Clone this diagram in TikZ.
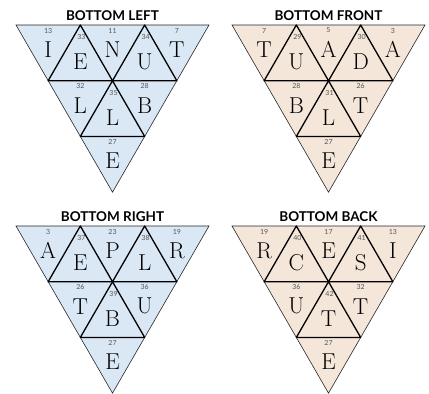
\documentclass[tikz,border=0pt]{standalone}
\usepackage{fontspec}
\newfontfamily\titlefont{Lato}
\usetikzlibrary{calc}

\definecolor{paleblue}{RGB}{218,232,246}
\definecolor{palesand}{RGB}{245,230,218}
\definecolor{numgray}{RGB}{85,85,85}

\newcommand{\cellw}{64.333}
\newcommand{\cellh}{55.715}

\begin{document}
\begin{tikzpicture}[
    x=1pt, y=-1pt,
    outline/.style={draw=black!85, line width=0.6pt},
    inner/.style={draw=black, line width=1.3pt, line join=round},
    letter/.style={font=\fontsize{23}{23}\selectfont, inner sep=0pt},
    num/.style={font=\titlefont\fontsize{7}{7}\selectfont, text=numgray, inner sep=0pt},
    title/.style={font=\titlefont\bfseries\fontsize{13.5}{14}\selectfont, inner sep=0pt, anchor=base},
    down/.style={shift={(0,24.5)}},
    up/.style={shift={(0,-18.6)}},
]
\useasboundingbox (0,0) rectangle (429,394);

% ===== grid points of the four panels =====
\foreach \p/\px/\py in {BL/16/25, BF/232/25, BR/16/226, BB/232/226}{
  \foreach \r in {0,1,2,3}{
    \pgfmathtruncatemacro{\kmax}{3-\r}
    \foreach \k in {0,...,\kmax}
      \coordinate (\p-\r\k) at ({\px+\r*\cellw/2+\k*\cellw},{\py+\r*\cellh});
  }
}

% ===== BOTTOM LEFT =====
\fill[paleblue] (BL-00) -- (BL-03) -- (BL-30) -- cycle;
\draw[outline] (BL-00) -- (BL-03) -- (BL-30) -- cycle;
\draw[inner] (BL-10) -- (BL-11) -- (BL-01) -- cycle;
\draw[inner] (BL-11) -- (BL-12) -- (BL-02) -- cycle;
\draw[inner] (BL-20) -- (BL-21) -- (BL-11) -- cycle;
\node[title] (BL-title) at ($(BL-00)!0.5!(BL-03)+(0,-5)$) {BOTTOM LEFT};

\node[letter, down] (BL-t1) at ($(BL-00)!0.5!(BL-01)$) {I};
\node[letter, down] (BL-t2) at ($(BL-01)!0.5!(BL-02)$) {N};
\node[letter, down] (BL-t3) at ($(BL-02)!0.5!(BL-03)$) {T};
\node[letter, up] (BL-u1) at ($(BL-10)!0.5!(BL-11)$) {E};
\node[letter, up] (BL-u2) at ($(BL-11)!0.5!(BL-12)$) {U};
\node[letter, down] (BL-m1) at ($(BL-10)!0.5!(BL-11)$) {L};
\node[letter, down] (BL-m2) at ($(BL-11)!0.5!(BL-12)$) {B};
\node[letter, up] (BL-c) at ($(BL-20)!0.5!(BL-21)$) {L};
\node[letter, down] (BL-b) at ($(BL-20)!0.5!(BL-21)$) {E};

\node[num] (BL-t1n) at ($(BL-00)!0.5!(BL-01)+(0,5.5)$) {13};
\node[num] (BL-t2n) at ($(BL-01)!0.5!(BL-02)+(0,5.5)$) {11};
\node[num] (BL-t3n) at ($(BL-02)!0.5!(BL-03)+(0,5.5)$) {7};
\node[num] (BL-u1n) at ($(BL-01)+(1,12)$) {33};
\node[num] (BL-u2n) at ($(BL-02)+(1,12)$) {34};
\node[num] (BL-m1n) at ($(BL-10)!0.5!(BL-11)+(0,5.5)$) {32};
\node[num] (BL-m2n) at ($(BL-11)!0.5!(BL-12)+(0,5.5)$) {28};
\node[num] (BL-cn) at ($(BL-11)+(1,12)$) {35};
\node[num] (BL-bn) at ($(BL-20)!0.5!(BL-21)+(0,5.5)$) {27};

% ===== BOTTOM FRONT =====
\fill[palesand] (BF-00) -- (BF-03) -- (BF-30) -- cycle;
\draw[outline] (BF-00) -- (BF-03) -- (BF-30) -- cycle;
\draw[inner] (BF-10) -- (BF-11) -- (BF-01) -- cycle;
\draw[inner] (BF-11) -- (BF-12) -- (BF-02) -- cycle;
\draw[inner] (BF-20) -- (BF-21) -- (BF-11) -- cycle;
\node[title] (BF-title) at ($(BF-00)!0.5!(BF-03)+(0,-5)$) {BOTTOM FRONT};

\node[letter, down] (BF-t1) at ($(BF-00)!0.5!(BF-01)$) {T};
\node[letter, down] (BF-t2) at ($(BF-01)!0.5!(BF-02)$) {A};
\node[letter, down] (BF-t3) at ($(BF-02)!0.5!(BF-03)$) {A};
\node[letter, up] (BF-u1) at ($(BF-10)!0.5!(BF-11)$) {U};
\node[letter, up] (BF-u2) at ($(BF-11)!0.5!(BF-12)$) {D};
\node[letter, down] (BF-m1) at ($(BF-10)!0.5!(BF-11)$) {B};
\node[letter, down] (BF-m2) at ($(BF-11)!0.5!(BF-12)$) {T};
\node[letter, up] (BF-c) at ($(BF-20)!0.5!(BF-21)$) {L};
\node[letter, down] (BF-b) at ($(BF-20)!0.5!(BF-21)$) {E};

\node[num] (BF-t1n) at ($(BF-00)!0.5!(BF-01)+(0,5.5)$) {7};
\node[num] (BF-t2n) at ($(BF-01)!0.5!(BF-02)+(0,5.5)$) {5};
\node[num] (BF-t3n) at ($(BF-02)!0.5!(BF-03)+(0,5.5)$) {3};
\node[num] (BF-u1n) at ($(BF-01)+(1,12)$) {29};
\node[num] (BF-u2n) at ($(BF-02)+(1,12)$) {30};
\node[num] (BF-m1n) at ($(BF-10)!0.5!(BF-11)+(0,5.5)$) {28};
\node[num] (BF-m2n) at ($(BF-11)!0.5!(BF-12)+(0,5.5)$) {26};
\node[num] (BF-cn) at ($(BF-11)+(1,12)$) {31};
\node[num] (BF-bn) at ($(BF-20)!0.5!(BF-21)+(0,5.5)$) {27};

% ===== BOTTOM RIGHT =====
\fill[paleblue] (BR-00) -- (BR-03) -- (BR-30) -- cycle;
\draw[outline] (BR-00) -- (BR-03) -- (BR-30) -- cycle;
\draw[inner] (BR-10) -- (BR-11) -- (BR-01) -- cycle;
\draw[inner] (BR-11) -- (BR-12) -- (BR-02) -- cycle;
\draw[inner] (BR-20) -- (BR-21) -- (BR-11) -- cycle;
\node[title] (BR-title) at ($(BR-00)!0.5!(BR-03)+(0,-5)$) {BOTTOM RIGHT};

\node[letter, down] (BR-t1) at ($(BR-00)!0.5!(BR-01)$) {A};
\node[letter, down] (BR-t2) at ($(BR-01)!0.5!(BR-02)$) {P};
\node[letter, down] (BR-t3) at ($(BR-02)!0.5!(BR-03)$) {R};
\node[letter, up] (BR-u1) at ($(BR-10)!0.5!(BR-11)$) {E};
\node[letter, up] (BR-u2) at ($(BR-11)!0.5!(BR-12)$) {L};
\node[letter, down] (BR-m1) at ($(BR-10)!0.5!(BR-11)$) {T};
\node[letter, down] (BR-m2) at ($(BR-11)!0.5!(BR-12)$) {U};
\node[letter, up] (BR-c) at ($(BR-20)!0.5!(BR-21)$) {B};
\node[letter, down] (BR-b) at ($(BR-20)!0.5!(BR-21)$) {E};

\node[num] (BR-t1n) at ($(BR-00)!0.5!(BR-01)+(0,5.5)$) {3};
\node[num] (BR-t2n) at ($(BR-01)!0.5!(BR-02)+(0,5.5)$) {23};
\node[num] (BR-t3n) at ($(BR-02)!0.5!(BR-03)+(0,5.5)$) {19};
\node[num] (BR-u1n) at ($(BR-01)+(1,12)$) {37};
\node[num] (BR-u2n) at ($(BR-02)+(1,12)$) {38};
\node[num] (BR-m1n) at ($(BR-10)!0.5!(BR-11)+(0,5.5)$) {26};
\node[num] (BR-m2n) at ($(BR-11)!0.5!(BR-12)+(0,5.5)$) {36};
\node[num] (BR-cn) at ($(BR-11)+(1,12)$) {39};
\node[num] (BR-bn) at ($(BR-20)!0.5!(BR-21)+(0,5.5)$) {27};

% ===== BOTTOM BACK =====
\fill[palesand] (BB-00) -- (BB-03) -- (BB-30) -- cycle;
\draw[outline] (BB-00) -- (BB-03) -- (BB-30) -- cycle;
\draw[inner] (BB-10) -- (BB-11) -- (BB-01) -- cycle;
\draw[inner] (BB-11) -- (BB-12) -- (BB-02) -- cycle;
\draw[inner] (BB-20) -- (BB-21) -- (BB-11) -- cycle;
\node[title] (BB-title) at ($(BB-00)!0.5!(BB-03)+(0,-5)$) {BOTTOM BACK};

\node[letter, down] (BB-t1) at ($(BB-00)!0.5!(BB-01)$) {R};
\node[letter, down] (BB-t2) at ($(BB-01)!0.5!(BB-02)$) {E};
\node[letter, down] (BB-t3) at ($(BB-02)!0.5!(BB-03)$) {I};
\node[letter, up] (BB-u1) at ($(BB-10)!0.5!(BB-11)$) {C};
\node[letter, up] (BB-u2) at ($(BB-11)!0.5!(BB-12)$) {S};
\node[letter, down] (BB-m1) at ($(BB-10)!0.5!(BB-11)$) {U};
\node[letter, down] (BB-m2) at ($(BB-11)!0.5!(BB-12)$) {T};
\node[letter, up] (BB-c) at ($(BB-20)!0.5!(BB-21)$) {T};
\node[letter, down] (BB-b) at ($(BB-20)!0.5!(BB-21)$) {E};

\node[num] (BB-t1n) at ($(BB-00)!0.5!(BB-01)+(0,5.5)$) {19};
\node[num] (BB-t2n) at ($(BB-01)!0.5!(BB-02)+(0,5.5)$) {17};
\node[num] (BB-t3n) at ($(BB-02)!0.5!(BB-03)+(0,5.5)$) {13};
\node[num] (BB-u1n) at ($(BB-01)+(1,12)$) {40};
\node[num] (BB-u2n) at ($(BB-02)+(1,12)$) {41};
\node[num] (BB-m1n) at ($(BB-10)!0.5!(BB-11)+(0,5.5)$) {36};
\node[num] (BB-m2n) at ($(BB-11)!0.5!(BB-12)+(0,5.5)$) {32};
\node[num] (BB-cn) at ($(BB-11)+(1,12)$) {42};
\node[num] (BB-bn) at ($(BB-20)!0.5!(BB-21)+(0,5.5)$) {27};
\end{tikzpicture}
\end{document}
